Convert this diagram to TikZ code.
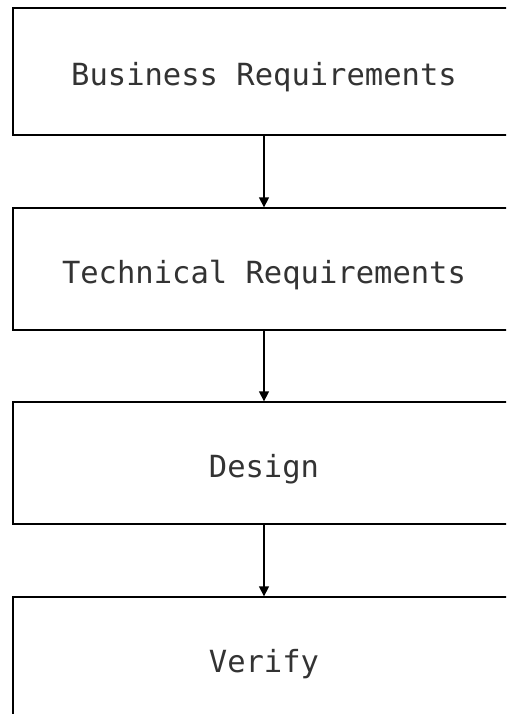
\documentclass[tikz,border=0pt]{standalone}
\usepackage{fontspec}
\setmonofont{DejaVu Sans Mono}
\usetikzlibrary{arrows.meta}
\begin{document}
\begin{tikzpicture}[x=1pt, y=-1pt,
  stage/.style={draw, line width=1.3pt, rectangle, minimum width=502pt,
    inner sep=0pt, text=black!80,
    font=\ttfamily\fontsize{30.5}{31}\selectfont,
    text height=29pt, text depth=0pt},
  flow/.style={-{Triangle[width=10pt,length=10pt]}, line width=1.3pt}]
\useasboundingbox (0,0) rectangle (506,714);
\clip (0,0) rectangle (506,714);
% stages of the process, top to bottom
\node[stage, minimum height=127pt] (br) at (264,71.5) {Business Requirements};
\node[stage, minimum height=122pt] (tr) at (264,269) {Technical Requirements};
\node[stage, minimum height=122pt] (ds) at (264,463) {Design};
\node[stage, minimum height=122pt] (vf) at (264,658) {Verify};
% arrows between consecutive stages
\draw[flow] (br) -- (tr);
\draw[flow] (tr) -- (ds);
\draw[flow] (ds) -- (vf);
\end{tikzpicture}
\end{document}
